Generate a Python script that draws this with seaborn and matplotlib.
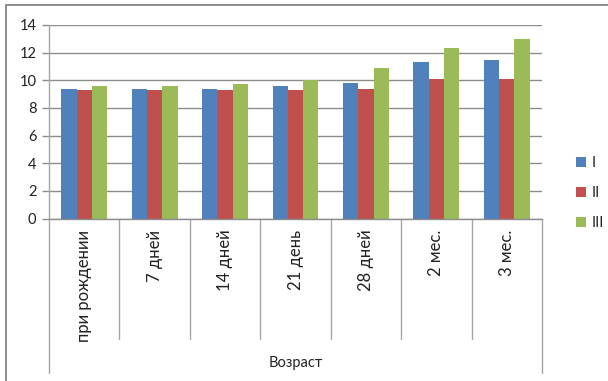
import matplotlib
matplotlib.use("Agg")
import matplotlib.pyplot as plt
from matplotlib.lines import Line2D
from matplotlib.patches import Rectangle
import seaborn as sns
import pandas as pd

# Age points and the three group series
ages = ["при рождении", "7 дней", "14 дней", "21 день", "28 дней", "2 мес.", "3 мес."]
groups = ["I", "II", "III"]
series_I = [9.4, 9.4, 9.4, 9.6, 9.8, 11.3, 11.5]
series_II = [9.3, 9.3, 9.3, 9.3, 9.4, 10.1, 10.1]
series_III = [9.6, 9.6, 9.7, 10.0, 10.9, 12.3, 13.0]
y_ticks = [0, 2, 4, 6, 8, 10, 12, 14]
x_title = "Возраст"

colors = ["#4F81BD", "#C0504D", "#9BBB59"]
grid_col = "#8c8c8c"
frame_col = "#a6a6a6"

df = pd.DataFrame({
    "age": ages * 3,
    "group": [g for g in groups for _ in ages],
    "value": series_I + series_II + series_III,
})

sns.set_theme(style="white")
plt.rcParams["font.family"] = ["Lato", "DejaVu Sans"]

W, H = 608, 381
fig = plt.figure(figsize=(W / 100, H / 100), dpi=100)

# plot area in pixel terms
x0, x1 = 49, 542
y_top, y_zero = 25, 218.5
ax = fig.add_axes([x0 / W, 1 - y_zero / H, (x1 - x0) / W, (y_zero - y_top) / H])

sns.barplot(data=df, x="age", y="value", hue="group", order=ages,
            hue_order=groups, palette=colors, saturation=1, width=0.65,
            edgecolor="none", linewidth=0, ax=ax, legend=False)

ax.set_ylim(0, 14)
ax.set_yticks(y_ticks)
ax.set_xlim(-0.5, len(ages) - 0.5)
ax.set_axisbelow(True)
ax.yaxis.grid(True, color=grid_col, linewidth=1)
ax.xaxis.grid(False)
for s in ["top", "right", "left"]:
    ax.spines[s].set_visible(False)
ax.spines["bottom"].set_color(grid_col)
ax.spines["bottom"].set_linewidth(1)

ax.tick_params(axis="y", which="major", left=True, length=5, width=1,
               color=grid_col, pad=4, labelsize=10.5, labelcolor="#222222")
ax.tick_params(axis="x", length=0, pad=8, labelsize=12, labelcolor="#222222")
for lbl in ax.get_xticklabels():
    lbl.set_rotation(90)
    lbl.set_va("top")
    lbl.set_ha("center")

ax.set_ylabel("")
ax.set_xlabel(x_title, fontsize=10.5, color="#222222")
ax.xaxis.set_label_coords(0.5, -(363 - y_zero) / (y_zero - y_top))
ax.xaxis.label.set_va("center")

# category table lines under the axis
tr = ax.get_xaxis_transform()
ax_h = y_zero - y_top
short_end = -(339 - y_zero) / ax_h
long_end = -(373 - y_zero) / ax_h
ax.add_line(Line2D([-0.5, -0.5], [long_end, 1], transform=tr, color=frame_col,
                   lw=1, clip_on=False))
ax.add_line(Line2D([len(ages) - 0.5] * 2, [long_end, 0], transform=tr,
                   color=frame_col, lw=1, clip_on=False))
for i in range(1, len(ages)):
    ax.add_line(Line2D([i - 0.5, i - 0.5], [short_end, 0], transform=tr,
                       color=frame_col, lw=1, clip_on=False))

# legend
handles = [Rectangle((0, 0), 1, 1, facecolor=c, edgecolor="none") for c in colors]
fig.legend(handles, groups, loc="center left",
           bbox_to_anchor=(563 / W, 1 - 193 / H), frameon=False,
           fontsize=10.5, handlelength=0.65, handleheight=0.65,
           handletextpad=0.4, labelspacing=1.1, labelcolor="#222222")

# outer chart border
fig.patches.append(Rectangle((6 / W, -0.5), 2, 0.5 + 1 - 5 / H,
                             transform=fig.transFigure, fill=False,
                             edgecolor="#868686", lw=1.3))

fig.savefig("out.png", dpi=100)
